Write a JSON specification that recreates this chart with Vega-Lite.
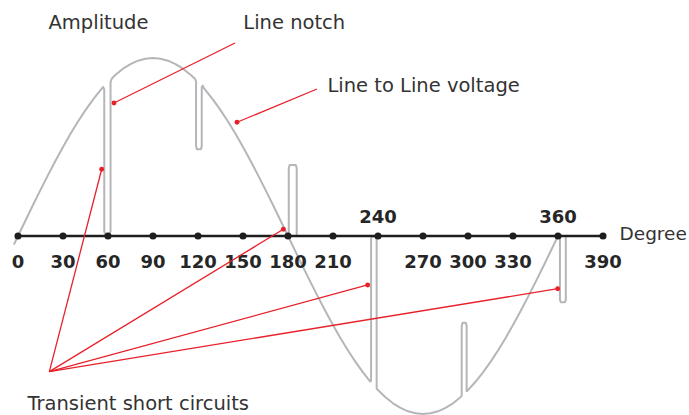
{
  "$schema": "https://vega.github.io/schema/vega-lite/v6.json",
  "width": 689,
  "height": 415,
  "padding": 0,
  "autosize": {"type": "none"},
  "background": "white",
  "config": {"view": {"stroke": null}},
  "datasets": {
    "wave": [
      {"seg":"w","i":1,"deg":-2.5,"amp":-4.4},
      {"seg":"w","i":2,"deg":0,"amp":0},
      {"seg":"w","i":3,"deg":5,"amp":8.7},
      {"seg":"w","i":4,"deg":10,"amp":17.4},
      {"seg":"w","i":5,"deg":15,"amp":25.9},
      {"seg":"w","i":6,"deg":20,"amp":34.2},
      {"seg":"w","i":7,"deg":25,"amp":42.3},
      {"seg":"w","i":8,"deg":30,"amp":50},
      {"seg":"w","i":9,"deg":35,"amp":57.4},
      {"seg":"w","i":10,"deg":40,"amp":64.3},
      {"seg":"w","i":11,"deg":45,"amp":70.7},
      {"seg":"w","i":12,"deg":50,"amp":76.6},
      {"seg":"w","i":13,"deg":55,"amp":81.9},
      {"seg":"w","i":14,"deg":56.8,"amp":83.7},
      {"seg":"w","i":15,"deg":57.5,"amp":82.3},
      {"seg":"w","i":16,"deg":57.5,"amp":2.5},
      {"seg":"w","i":17,"deg":58.1,"amp":1.2},
      {"seg":"w","i":18,"deg":61.1,"amp":1.2},
      {"seg":"w","i":19,"deg":61.7,"amp":2.5},
      {"seg":"w","i":20,"deg":61.7,"amp":86.5},
      {"seg":"w","i":21,"deg":62.6,"amp":88.5},
      {"seg":"w","i":22,"deg":65,"amp":90.6},
      {"seg":"w","i":23,"deg":70,"amp":94.0},
      {"seg":"w","i":24,"deg":75,"amp":96.6},
      {"seg":"w","i":25,"deg":80,"amp":98.5},
      {"seg":"w","i":26,"deg":85,"amp":99.6},
      {"seg":"w","i":27,"deg":90,"amp":100},
      {"seg":"w","i":28,"deg":95,"amp":99.6},
      {"seg":"w","i":29,"deg":100,"amp":98.5},
      {"seg":"w","i":30,"deg":105,"amp":96.6},
      {"seg":"w","i":31,"deg":110,"amp":94.0},
      {"seg":"w","i":32,"deg":115,"amp":90.6},
      {"seg":"w","i":33,"deg":118.0,"amp":88.3},
      {"seg":"w","i":34,"deg":118.7,"amp":86.8},
      {"seg":"w","i":35,"deg":118.7,"amp":50.5},
      {"seg":"w","i":36,"deg":119.3,"amp":48.7},
      {"seg":"w","i":37,"deg":121.9,"amp":48.7},
      {"seg":"w","i":38,"deg":122.5,"amp":50.5},
      {"seg":"w","i":39,"deg":122.5,"amp":83.6},
      {"seg":"w","i":40,"deg":123.2,"amp":84.5},
      {"seg":"w","i":41,"deg":124,"amp":82.9},
      {"seg":"w","i":42,"deg":125,"amp":81.9},
      {"seg":"w","i":43,"deg":130,"amp":76.6},
      {"seg":"w","i":44,"deg":135,"amp":70.7},
      {"seg":"w","i":45,"deg":140,"amp":64.3},
      {"seg":"w","i":46,"deg":145,"amp":57.4},
      {"seg":"w","i":47,"deg":150,"amp":50},
      {"seg":"w","i":48,"deg":155,"amp":42.3},
      {"seg":"w","i":49,"deg":160,"amp":34.2},
      {"seg":"w","i":50,"deg":165,"amp":25.9},
      {"seg":"w","i":51,"deg":170,"amp":17.4},
      {"seg":"w","i":52,"deg":175,"amp":8.7},
      {"seg":"w","i":53,"deg":180,"amp":0},
      {"seg":"w","i":54,"deg":185,"amp":-8.7},
      {"seg":"w","i":55,"deg":190,"amp":-17.4},
      {"seg":"w","i":56,"deg":195,"amp":-25.9},
      {"seg":"w","i":57,"deg":200,"amp":-34.2},
      {"seg":"w","i":58,"deg":205,"amp":-42.3},
      {"seg":"w","i":59,"deg":210,"amp":-50},
      {"seg":"w","i":60,"deg":215,"amp":-57.4},
      {"seg":"w","i":61,"deg":220,"amp":-64.3},
      {"seg":"w","i":62,"deg":225,"amp":-70.7},
      {"seg":"w","i":63,"deg":230,"amp":-76.6},
      {"seg":"w","i":64,"deg":234.7,"amp":-81.7},
      {"seg":"w","i":65,"deg":235.2,"amp":-81.6},
      {"seg":"w","i":66,"deg":235.4,"amp":-80.5},
      {"seg":"w","i":67,"deg":235.4,"amp":-1.5},
      {"seg":"w","i":68,"deg":236.0,"amp":-0.3},
      {"seg":"w","i":69,"deg":238.5,"amp":-0.3},
      {"seg":"w","i":70,"deg":239.1,"amp":-1.5},
      {"seg":"w","i":71,"deg":239.1,"amp":-85.6},
      {"seg":"w","i":72,"deg":239.8,"amp":-86.4},
      {"seg":"w","i":73,"deg":245,"amp":-90.6},
      {"seg":"w","i":74,"deg":250,"amp":-94.0},
      {"seg":"w","i":75,"deg":255,"amp":-96.6},
      {"seg":"w","i":76,"deg":260,"amp":-98.5},
      {"seg":"w","i":77,"deg":265,"amp":-99.6},
      {"seg":"w","i":78,"deg":270,"amp":-100},
      {"seg":"w","i":79,"deg":275,"amp":-99.6},
      {"seg":"w","i":80,"deg":280,"amp":-98.5},
      {"seg":"w","i":81,"deg":285,"amp":-96.6},
      {"seg":"w","i":82,"deg":290,"amp":-94.0},
      {"seg":"w","i":83,"deg":295,"amp":-90.6},
      {"seg":"w","i":84,"deg":295.8,"amp":-89.7},
      {"seg":"w","i":85,"deg":295.8,"amp":-50.5},
      {"seg":"w","i":86,"deg":296.4,"amp":-48.7},
      {"seg":"w","i":87,"deg":298.5,"amp":-48.7},
      {"seg":"w","i":88,"deg":299.1,"amp":-50.5},
      {"seg":"w","i":89,"deg":299.1,"amp":-87.2},
      {"seg":"w","i":90,"deg":300,"amp":-86.6},
      {"seg":"w","i":91,"deg":305,"amp":-81.9},
      {"seg":"w","i":92,"deg":310,"amp":-76.6},
      {"seg":"w","i":93,"deg":315,"amp":-70.7},
      {"seg":"w","i":94,"deg":320,"amp":-64.3},
      {"seg":"w","i":95,"deg":325,"amp":-57.4},
      {"seg":"w","i":96,"deg":330,"amp":-50},
      {"seg":"w","i":97,"deg":335,"amp":-42.3},
      {"seg":"w","i":98,"deg":340,"amp":-34.2},
      {"seg":"w","i":99,"deg":345,"amp":-25.9},
      {"seg":"w","i":100,"deg":350,"amp":-17.4},
      {"seg":"w","i":101,"deg":355,"amp":-8.7},
      {"seg":"w","i":102,"deg":360.3,"amp":0.5},
      {"seg":"w","i":103,"deg":361.3,"amp":-1.5},
      {"seg":"w","i":104,"deg":361.3,"amp":-36},
      {"seg":"w","i":105,"deg":361.9,"amp":-37.2},
      {"seg":"w","i":106,"deg":364.6,"amp":-37.2},
      {"seg":"w","i":107,"deg":365.2,"amp":-36},
      {"seg":"w","i":108,"deg":365.2,"amp":0},
      {"seg":"s","i":1,"deg":180.5,"amp":0},
      {"seg":"s","i":2,"deg":180.5,"amp":38.2},
      {"seg":"s","i":3,"deg":181.1,"amp":39.9},
      {"seg":"s","i":4,"deg":185.2,"amp":39.9},
      {"seg":"s","i":5,"deg":185.8,"amp":38.2},
      {"seg":"s","i":6,"deg":185.8,"amp":0}
    ],
    "axisline": [
      {"start":0,"end":390,"level":0}
    ],
    "ticks": [
      {"deg":0,"side":"below"},{"deg":30,"side":"below"},{"deg":60,"side":"below"},
      {"deg":90,"side":"below"},{"deg":120,"side":"below"},{"deg":150,"side":"below"},
      {"deg":180,"side":"below"},{"deg":210,"side":"below"},{"deg":240,"side":"above"},
      {"deg":270,"side":"below"},{"deg":300,"side":"below"},{"deg":330,"side":"below"},
      {"deg":360,"side":"above"},{"deg":390,"side":"below"}
    ],
    "pointers": [
      {"sx":144.67,"sy":108.43,"tx":64.0,"ty":74.72},
      {"sx":199.33,"sy":82.58,"tx":146.0,"ty":63.9},
      {"sx":20.9,"sy":-76.2,"tx":55.8,"ty":37.5},
      {"sx":20.9,"sy":-76.2,"tx":176.9,"ty":3.8},
      {"sx":20.9,"sy":-76.2,"tx":233.1,"ty":-27.5},
      {"sx":20.9,"sy":-76.2,"tx":359.8,"ty":-29.6}
    ],
    "labels": [
      {"text":"Amplitude","deg":20.33,"amp":116.57},
      {"text":"Line notch","deg":150.2,"amp":116.57},
      {"text":"Line to Line voltage","deg":206.3,"amp":81.07},
      {"text":"Transient short circuits","deg":6.33,"amp":-97.9}
    ],
    "unitlabel": [
      {"text":"Degree","deg":401.0,"amp":-2.25}
    ]
  },
  "layer": [
    {
      "data": {"name": "wave"},
      "mark": {"type": "line", "color": "#b6b6ba", "strokeWidth": 2, "strokeJoin": "round", "strokeCap": "round"},
      "encoding": {
        "x": {"field": "deg", "type": "quantitative", "scale": {"domain": [-12, 447.333], "nice": false, "zero": false}, "axis": null},
        "y": {"field": "amp", "type": "quantitative", "scale": {"domain": [-100.562, 132.584], "nice": false, "zero": false}, "axis": null},
        "detail": {"field": "seg"},
        "order": {"field": "i", "type": "quantitative"}
      }
    },
    {
      "data": {"name": "axisline"},
      "mark": {"type": "rule", "color": "#1e1e1e", "strokeWidth": 2.5},
      "encoding": {
        "x": {"field": "start", "type": "quantitative", "scale": {"domain": [-12, 447.333], "nice": false, "zero": false}, "axis": null},
        "x2": {"field": "end"},
        "y": {"field": "level", "type": "quantitative", "scale": {"domain": [-100.562, 132.584], "nice": false, "zero": false}, "axis": null}
      }
    },
    {
      "data": {"name": "ticks"},
      "mark": {"type": "point", "filled": true, "color": "#1e1e1e", "size": 50, "opacity": 1},
      "encoding": {
        "x": {"field": "deg", "type": "quantitative", "scale": {"domain": [-12, 447.333], "nice": false, "zero": false}, "axis": null},
        "y": {"datum": 0, "type": "quantitative", "scale": {"domain": [-100.562, 132.584], "nice": false, "zero": false}, "axis": null}
      }
    },
    {
      "data": {"name": "ticks"},
      "transform": [{"filter": "datum.side === 'below'"}],
      "mark": {"type": "text", "font": "DejaVu Sans", "fontWeight": "bold", "fontSize": 18, "color": "#262626", "align": "center", "baseline": "alphabetic"},
      "encoding": {
        "x": {"field": "deg", "type": "quantitative", "scale": {"domain": [-12, 447.333], "nice": false, "zero": false}, "axis": null},
        "y": {"datum": -18.15, "type": "quantitative", "scale": {"domain": [-100.562, 132.584], "nice": false, "zero": false}, "axis": null},
        "text": {"field": "deg", "type": "quantitative"}
      }
    },
    {
      "data": {"name": "ticks"},
      "transform": [{"filter": "datum.side === 'above'"}],
      "mark": {"type": "text", "font": "DejaVu Sans", "fontWeight": "bold", "fontSize": 18, "color": "#262626", "align": "center", "baseline": "alphabetic"},
      "encoding": {
        "x": {"field": "deg", "type": "quantitative", "scale": {"domain": [-12, 447.333], "nice": false, "zero": false}, "axis": null},
        "y": {"datum": 7.47, "type": "quantitative", "scale": {"domain": [-100.562, 132.584], "nice": false, "zero": false}, "axis": null},
        "text": {"field": "deg", "type": "quantitative"}
      }
    },
    {
      "data": {"name": "pointers"},
      "mark": {"type": "rule", "color": "#e8202a", "strokeWidth": 1.3},
      "encoding": {
        "x": {"field": "sx", "type": "quantitative", "scale": {"domain": [-12, 447.333], "nice": false, "zero": false}, "axis": null},
        "y": {"field": "sy", "type": "quantitative", "scale": {"domain": [-100.562, 132.584], "nice": false, "zero": false}, "axis": null},
        "x2": {"field": "tx"},
        "y2": {"field": "ty"}
      }
    },
    {
      "data": {"name": "pointers"},
      "mark": {"type": "point", "filled": true, "color": "#e8202a", "size": 24, "opacity": 1},
      "encoding": {
        "x": {"field": "tx", "type": "quantitative", "scale": {"domain": [-12, 447.333], "nice": false, "zero": false}, "axis": null},
        "y": {"field": "ty", "type": "quantitative", "scale": {"domain": [-100.562, 132.584], "nice": false, "zero": false}, "axis": null}
      }
    },
    {
      "data": {"name": "labels"},
      "mark": {"type": "text", "font": "DejaVu Sans", "fontSize": 19.5, "color": "#333333", "align": "left", "baseline": "alphabetic"},
      "encoding": {
        "x": {"field": "deg", "type": "quantitative", "scale": {"domain": [-12, 447.333], "nice": false, "zero": false}, "axis": null},
        "y": {"field": "amp", "type": "quantitative", "scale": {"domain": [-100.562, 132.584], "nice": false, "zero": false}, "axis": null},
        "text": {"field": "text"}
      }
    },
    {
      "data": {"name": "unitlabel"},
      "mark": {"type": "text", "font": "DejaVu Sans", "fontSize": 18.5, "color": "#333333", "align": "left", "baseline": "alphabetic"},
      "encoding": {
        "x": {"field": "deg", "type": "quantitative", "scale": {"domain": [-12, 447.333], "nice": false, "zero": false}, "axis": null},
        "y": {"field": "amp", "type": "quantitative", "scale": {"domain": [-100.562, 132.584], "nice": false, "zero": false}, "axis": null},
        "text": {"field": "text"}
      }
    }
  ]
}
